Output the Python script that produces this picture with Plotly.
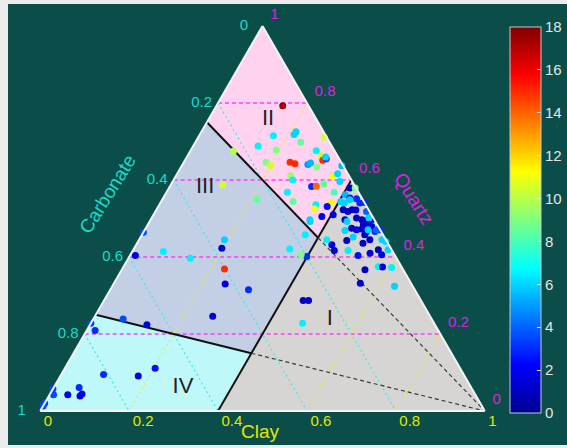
import plotly.graph_objects as go

# Sample compositions (fractions): quartz (apex), clay (bottom right); carbonate is the remainder
QUARTZ = [
    0.793, 0.725, 0.718, 0.715, 0.698, 0.711, 0.688, 0.678, 0.676, 0.663,
    0.646, 0.642, 0.640, 0.644, 0.651, 0.655, 0.634, 0.646, 0.637, 0.637,
    0.611, 0.600, 0.610, 0.616, 0.596, 0.590, 0.583, 0.584, 0.568, 0.544,
    0.536, 0.525, 0.542, 0.531, 0.505, 0.497, 0.549, 0.675, 0.660,
    0.579, 0.579, 0.562, 0.568, 0.544, 0.553, 0.551, 0.542, 0.540, 0.540,
    0.523, 0.518, 0.523, 0.522, 0.518, 0.510, 0.497, 0.492, 0.501, 0.497,
    0.495, 0.497, 0.501, 0.484, 0.484, 0.479, 0.475, 0.471, 0.473, 0.466,
    0.466, 0.471, 0.469, 0.452, 0.443, 0.458, 0.445, 0.436, 0.445, 0.440,
    0.471, 0.419, 0.406, 0.419, 0.404, 0.410, 0.375, 0.373, 0.374, 0.367,
    0.332, 0.324, 0.432, 0.417, 0.417, 0.445, 0.458, 0.492, 0.401, 0.406,
    0.287, 0.287, 0.228, 0.549, 0.471,
    0.464, 0.414, 0.397, 0.423, 0.445, 0.369, 0.330, 0.315, 0.246, 0.224,
    0.239, 0.404, 0.587, 0.421,
    0.228, 0.209, 0.095, 0.091, 0.111, 0.057, 0.042, 0.042, 0.061, 0.039,
    0.044, 0.020, 0.013,
]
CLAY = [
    0.149, 0.213, 0.212, 0.167, 0.237, 0.283, 0.146, 0.192, 0.283, 0.301,
    0.239, 0.252, 0.282, 0.286, 0.310, 0.316, 0.305, 0.185, 0.200, 0.360,
    0.258, 0.268, 0.352, 0.361, 0.376, 0.343, 0.319, 0.329, 0.272, 0.297,
    0.352, 0.355, 0.384, 0.380, 0.381, 0.358, 0.213, 0.097, 0.312,
    0.407, 0.419, 0.405, 0.377, 0.404, 0.420, 0.436, 0.459, 0.449, 0.414,
    0.420, 0.433, 0.440, 0.449, 0.475, 0.404, 0.437, 0.444, 0.461, 0.475,
    0.487, 0.497, 0.489, 0.485, 0.496, 0.506, 0.463, 0.476, 0.487, 0.501,
    0.520, 0.529, 0.451, 0.478, 0.468, 0.501, 0.519, 0.508, 0.546, 0.557,
    0.521, 0.551, 0.565, 0.573, 0.513, 0.537, 0.573, 0.604, 0.583, 0.547,
    0.554, 0.635, 0.440, 0.453, 0.484, 0.422, 0.367, 0.361, 0.399, 0.384,
    0.448, 0.460, 0.476, 0.422, 0.502,
    0.000, 0.070, 0.139, 0.197, 0.192, 0.230, 0.251, 0.311, 0.265, 0.128,
    0.067, 0.012, 0.117, 0.351,
    0.000, 0.019, 0.095, 0.175, 0.203, 0.000, 0.009, 0.041, 0.057, 0.070,
    0.072, 0.000, 0.000,
]
VALUE = [
    17.5, 6.0, 6.0, 6.5, 8.5, 10.5, 6.5, 9.0, 6.5, 10.5,
    15.0, 15.0, 5.0, 5.5, 15.0, 3.5, 9.0, 9.0, 10.5, 5.5,
    9.5, 6.5, 11.0, 6.0, 6.0, 8.5, 3.0, 14.0, 6.5, 8.5,
    6.5, 11.0, 11.0, 2.5, 2.0, 6.0, 8.5, 10.0, 6.0,
    1.0, 9.0, 5.5, 8.0, 6.0, 2.5, 3.0, 3.0, 3.0, 6.0,
    1.0, 1.0, 1.0, 1.5, 4.0, 1.5, 1.0, 6.0, 1.0, 1.0,
    1.5, 2.0, 6.0, 1.0, 1.0, 1.5, 1.0, 1.5, 1.5, 2.0,
    3.0, 3.0, 6.0, 6.0, 1.0, 1.0, 1.0, 1.0, 6.0, 6.0,
    4.0, 1.0, 1.5, 6.0, 2.5, 1.5, 6.5, 6.5, 1.5, 1.0,
    1.5, 6.0, 1.5, 1.5, 6.5, 6.5, 6.5, 6.0, 3.0, 9.0,
    1.0, 1.0, 6.5, 6.0, 6.0,
    3.5, 6.5, 6.5, 1.5, 6.0, 15.0, 1.5, 3.0, 1.5, 1.5,
    3.5, 1.5, 10.5, 6.5,
    3.5, 3.0, 3.0, 1.5, 2.5, 3.5, 3.5, 2.0, 3.0, 1.5,
    1.5, 3.5, 3.5,
]

# Classification fields: polygon vertices as (quartz, clay) fractions
FIELD_I_Q = [0.60, 0.0, 0.0]
FIELD_I_CL = [0.40, 1.0, 0.40]
FIELD_II_Q = [1.0, 0.75, 0.45, 0.60]
FIELD_II_CL = [0.0, 0.0, 0.40, 0.40]
FIELD_III_Q = [0.75, 0.25, 0.15, 0.45]
FIELD_III_CL = [0.0, 0.0, 0.40, 0.40]
FIELD_IV_Q = [0.25, 0.0, 0.0, 0.15]
FIELD_IV_CL = [0.0, 0.0, 0.40, 0.40]

# Field label anchor positions (quartz, clay)
LABELS = ["I", "II", "III", "IV"]
LABEL_Q = [0.237, 0.757, 0.580, 0.062]
LABEL_CL = [0.533, 0.134, 0.081, 0.290]

GRID = [0.2, 0.4, 0.6, 0.8]
TICKS = [0.0, 0.2, 0.4, 0.6, 0.8, 1.0]
TICK_TEXT = ["0", "0.2", "0.4", "0.6", "0.8", "1"]
CBAR_TICKS = [0, 2, 4, 6, 8, 10, 12, 14, 16, 18]

TEAL = "#0b4e49"
CYAN = "#19dcc8"
MAGENTA = "#dd22dd"
YELLOW = "#e6e600"
FONT = "Liberation Sans, Arial, sans-serif"
NBSP = "\u00a0"

JET = [[0.0, "#00008f"], [0.125, "#0000ff"], [0.375, "#00ffff"],
       [0.625, "#ffff00"], [0.875, "#ff0000"], [1.0, "#800000"]]


def carb(q, cl):
    return [max(0.0, round(1.0 - a - c, 6)) for a, c in zip(q, cl)]


fig = go.Figure()

# filled classification fields
for q, cl, col in [(FIELD_I_Q, FIELD_I_CL, "#d7d5d3"),
                   (FIELD_II_Q, FIELD_II_CL, "#ffd2f0"),
                   (FIELD_III_Q, FIELD_III_CL, "#c3cfe4"),
                   (FIELD_IV_Q, FIELD_IV_CL, "#bff8f8")]:
    fig.add_trace(go.Scatterternary(
        a=q + q[:1], c=cl + cl[:1], b=carb(q + q[:1], cl + cl[:1]),
        mode="lines", fill="toself", fillcolor=col,
        line=dict(width=0, color=col), hoverinfo="skip"))


def seg_trace(pairs, color, dash, width):
    a, c = [], []
    for (q0, c0), (q1, c1) in pairs:
        a += [q0, q1, None]
        c += [c0, c1, None]
    b = [None if x is None else max(0.0, round(1 - x - y, 6)) for x, y in zip(a, c)]
    return go.Scatterternary(a=a, b=b, c=c, mode="lines", connectgaps=False,
                             line=dict(color=color, dash=dash, width=width),
                             hoverinfo="skip")


# constant-quartz (horizontal), constant-carbonate and constant-clay guide lines
fig.add_trace(seg_trace([((v, 0.0), (v, 1 - v)) for v in GRID], "#ff3cff", "4px,3px", 1.3))
fig.add_trace(seg_trace([((1 - v, 0.0), (0.0, 1 - v)) for v in GRID], "#3ee8e8", "2px,3px", 1.2))
fig.add_trace(seg_trace([((0.0, v), (1 - v, v)) for v in GRID], "#e8e83c", "2px,3px", 1.1))

# field boundaries
fig.add_trace(seg_trace([((0.0, 0.4), (0.6, 0.4)),
                         ((0.75, 0.0), (0.45, 0.4)),
                         ((0.25, 0.0), (0.15, 0.4))], "#111111", "solid", 2))
fig.add_trace(seg_trace([((0.45, 0.4), (0.0, 1.0)),
                         ((0.15, 0.4), (0.0, 1.0))], "#3a3a3a", "4px,3px", 1.2))

# samples
fig.add_trace(go.Scatterternary(
    a=QUARTZ, c=CLAY, b=carb(QUARTZ, CLAY), mode="markers", cliponaxis=False,
    marker=dict(size=7, color=VALUE, colorscale=JET, cmin=0, cmax=18,
                line=dict(width=0),
                colorbar=dict(x=510 / 567, xanchor="left", y=1 - 27 / 448, yanchor="top",
                              len=386 / 448, lenmode="fraction", thickness=31,
                              xpad=0, ypad=0, outlinecolor="#c8c8c8", outlinewidth=1,
                              tickvals=CBAR_TICKS, ticks="inside", ticklen=4,
                              tickcolor="#e8e8e8",
                              tickfont=dict(family=FONT, size=15, color="#e6e6e6"))),
    hoverinfo="skip"))

# field names
fig.add_trace(go.Scatterternary(
    a=LABEL_Q, c=LABEL_CL, b=carb(LABEL_Q, LABEL_CL), mode="text", text=LABELS,
    textfont=dict(family=FONT, size=22, color="#222222"), hoverinfo="skip"))


def tick_trace(a, b, c, text, pos, pad, color):
    # invisible markers set the gap between each label and its edge point
    return go.Scatterternary(
        a=a, b=b, c=c, mode="markers+text", text=text, textposition=pos,
        cliponaxis=False, marker=dict(size=pad, color="rgba(0,0,0,0)"),
        textfont=dict(family=FONT, size=15, color=color), hoverinfo="skip")


zeros = [0.0] * len(TICKS)
left_text = [t + NBSP * 2 if t in ("0", "1") else t for t in TICK_TEXT]
right_text = [NBSP + t for t in TICK_TEXT]
fig.add_trace(tick_trace([1 - v for v in TICKS], list(TICKS), zeros,
                         left_text, "middle left", 8, CYAN))       # carbonate
fig.add_trace(tick_trace(zeros, [1 - v for v in TICKS], list(TICKS),
                         TICK_TEXT, "bottom right", 4, YELLOW))    # clay
fig.add_trace(tick_trace(list(TICKS), zeros, [1 - v for v in TICKS],
                         right_text, "top right", 4, MAGENTA))     # quartz

axis = dict(showticklabels=False, showgrid=False, ticks="", linecolor="#f4f4f4",
            linewidth=2, min=0, title=dict(text=""))

fig.update_layout(
    width=567, height=448,
    margin=dict(l=0, r=0, t=0, b=0),
    paper_bgcolor="#ececec",
    showlegend=False,
    ternary=dict(domain=dict(x=[40 / 567, 485 / 567], y=[37 / 448, 422 / 448]),
                 bgcolor=TEAL, sum=1, aaxis=axis, baxis=axis, caxis=axis),
    shapes=[dict(type="rect", xref="paper", yref="paper", x0=8 / 567, x1=1,
                 y0=3 / 448, y1=1 - 4 / 448, fillcolor=TEAL, line=dict(width=0),
                 layer="below")],
    annotations=[
        dict(text="Carbonate", xref="paper", yref="paper", x=107 / 567, y=1 - 194 / 448,
             xanchor="center", yanchor="middle", textangle=-58, showarrow=False,
             font=dict(family=FONT, size=19, color=CYAN)),
        dict(text="Quartz", xref="paper", yref="paper", x=414 / 567, y=1 - 198 / 448,
             xanchor="center", yanchor="middle", textangle=58, showarrow=False,
             font=dict(family=FONT, size=19, color=MAGENTA)),
        dict(text="Clay", xref="paper", yref="paper", x=260 / 567, y=1 - 431 / 448,
             xanchor="center", yanchor="middle", showarrow=False,
             font=dict(family=FONT, size=19, color=YELLOW)),
    ],
)

fig.write_html("out.html")
